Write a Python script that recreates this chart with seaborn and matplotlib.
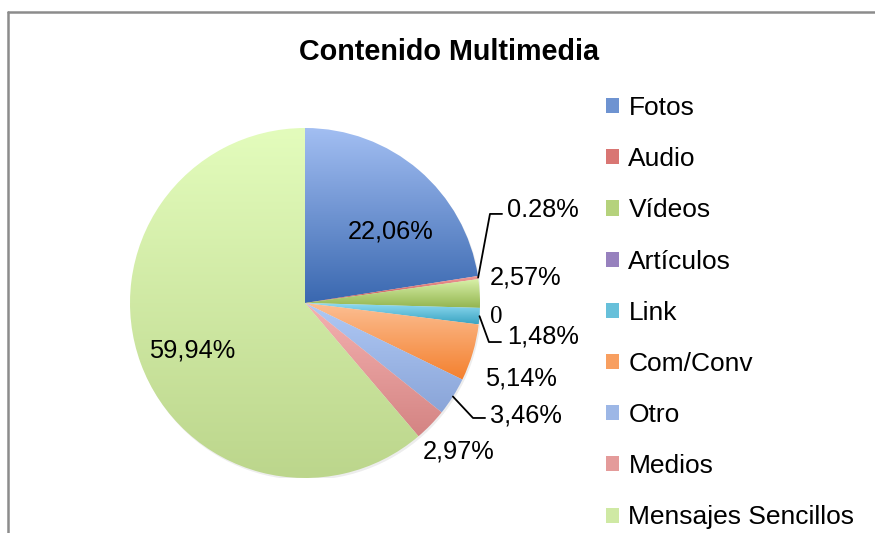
import numpy as np
import matplotlib
matplotlib.use("Agg")
import matplotlib.pyplot as plt
from matplotlib.patches import Patch, Circle
from matplotlib.lines import Line2D
import seaborn as sns

# datos del gráfico
categories = ["Fotos", "Audio", "Vídeos", "Artículos", "Link",
              "Com/Conv", "Otro", "Medios", "Mensajes Sencillos"]
values = [22.06, 0.28, 2.57, 0, 1.48, 5.14, 3.46, 2.97, 59.94]
value_labels = ["22,06%", "0.28%", "2,57%", "0", "1,48%",
                "5,14%", "3,46%", "2,97%", "59,94%"]

# degradado de cada porción (arriba -> abajo)
top_colors = ["#A2BEF2", "#F29C9A", "#D8F0A8", "#BEAADC", "#94DDF3",
              "#FCBE92", "#B0C9F5", "#F5B2B1", "#E3FCBC"]
bottom_colors = ["#3A68B0", "#C0504D", "#93B550", "#7158A0", "#3AA4C2",
                 "#F4802E", "#8AA5D8", "#D48483", "#BCD68C"]

sns.set_theme(style="white")
plt.rcParams["font.family"] = ["Liberation Sans", "DejaVu Sans"]
plt.rcParams["text.color"] = "black"

fig = plt.figure(figsize=(8.75, 5.33), dpi=100)
ax = fig.add_axes([130 / 875, 55 / 533, 350 / 875, 350 / 533])

# sombra suave bajo el pastel
ax.add_patch(Circle((0.008, -0.012), 1.0, color="#000000", alpha=0.07, lw=0, zorder=0))

wedges, _ = ax.pie(values, startangle=90, counterclock=False, radius=1,
                   wedgeprops=dict(linewidth=0, facecolor="none"))

for w, c0, c1 in zip(wedges, top_colors, bottom_colors):
    if w.theta2 - w.theta1 <= 0:
        continue
    ext = w.get_path().get_extents()
    grad = np.array(sns.blend_palette([c0, c1], n_colors=200))[:, None, :]
    im = ax.imshow(grad, extent=[ext.x0, ext.x1, ext.y0, ext.y1], origin="upper",
                   aspect="auto", interpolation="bilinear", zorder=1)
    im.set_clip_path(w)

# posición de las etiquetas (x, y de línea base, alineación) y codos de las guías
label_layout = [
    (0.489, 0.371, "center"),
    (1.154, 0.491, "left"),
    (1.057, 0.103, "left"),
    (1.094, -0.114, "center"),
    (1.154, -0.234, "left"),
    (1.029, -0.469, "left"),
    (1.057, -0.680, "left"),
    (0.674, -0.886, "left"),
    (-0.643, -0.309, "center"),
]
leaders = {
    1: [(1.057, 0.509), (1.126, 0.509)],
    4: [(1.051, -0.223), (1.120, -0.223)],
    6: [(0.960, -0.657), (1.029, -0.657)],
}

for i, (w, txt) in enumerate(zip(wedges, value_labels)):
    x, y, ha = label_layout[i]
    if txt == "0":
        ax.text(x, y, txt, ha=ha, va="baseline", fontsize=18,
                family=["Liberation Serif", "DejaVu Serif"], clip_on=False)
    else:
        ax.text(x, y, txt, ha=ha, va="baseline", fontsize=18.3, clip_on=False)
    if i in leaders:
        mid = np.deg2rad((w.theta1 + w.theta2) / 2)
        pts = [(np.cos(mid), np.sin(mid))] + leaders[i]
        xs, ys = zip(*pts)
        ax.plot(xs, ys, color="black", lw=1.3, clip_on=False, zorder=3)

ax.set_xlim(-1, 1)
ax.set_ylim(-1, 1)
ax.set_aspect("equal")
ax.axis("off")

fig.text(449 / 875, 1 - 52 / 533, "Contenido Multimedia", ha="center", va="center",
         fontsize=20.7, fontweight="bold")

mid_colors = [sns.blend_palette([a, b], 3)[1] for a, b in zip(top_colors, bottom_colors)]
handles = [Patch(facecolor=c, edgecolor="none") for c in mid_colors]
fig.legend(handles, categories, loc="upper left", bbox_to_anchor=(606 / 875, 1 - 96 / 533),
           frameon=False, fontsize=19, borderpad=0, borderaxespad=0,
           handlelength=0.5, handleheight=0.5, handletextpad=0.35, labelspacing=1.03)

# marco del área del gráfico
fig.add_artist(Line2D([8 / 875, 8 / 875], [0, 1 - 12 / 533], color="#8C8C8C", lw=1.8))
fig.add_artist(Line2D([8 / 875, 1], [1 - 12 / 533, 1 - 12 / 533], color="#8C8C8C", lw=1.8))

fig.savefig("out.png", dpi=100)
